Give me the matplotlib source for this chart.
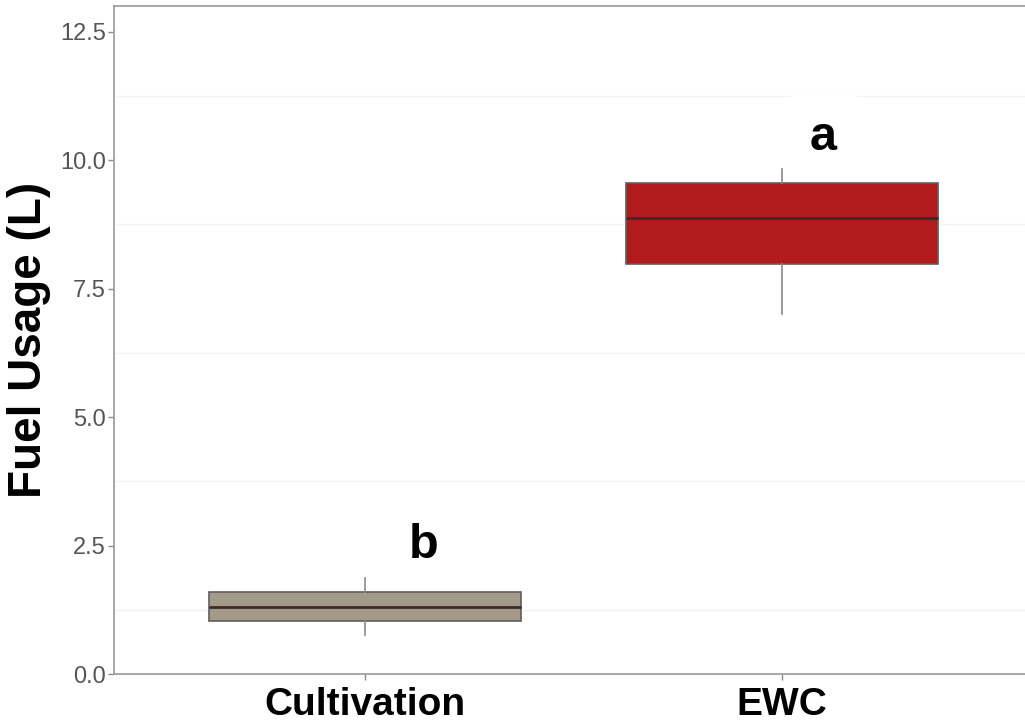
import matplotlib.pyplot as plt

plt.rcParams['font.family'] = ['Liberation Sans', 'DejaVu Sans']

# data
groups = ['Cultivation', 'EWC']
whisker_low = [0.76, 7.01]
q1 = [1.03, 7.98]
median = [1.31, 8.88]
q3 = [1.60, 9.55]
whisker_high = [1.87, 9.82]
letters = ['b', 'a']
letter_x_shift = [0.14, 0.10]
letter_y = [2.25, 10.19]
box_colors = ['#A39A8A', '#B21B1C']

fig = plt.figure(figsize=(10.25, 7.27), dpi=100, facecolor='white')
ax = fig.add_axes([0.1112, 0.0729, 0.95, 0.9188])

stats = []
for i, g in enumerate(groups):
    stats.append({'label': g, 'whislo': whisker_low[i], 'q1': q1[i], 'med': median[i],
                  'q3': q3[i], 'whishi': whisker_high[i], 'fliers': []})

positions = list(range(1, len(groups) + 1))
bp = ax.bxp(stats, positions=positions, widths=0.75, patch_artist=True, showcaps=False,
            boxprops=dict(edgecolor='#5e5e5e', linewidth=1.2),
            whiskerprops=dict(color='#8a8a8a', linewidth=1.2),
            medianprops=dict(color='#3d2a2a', linewidth=2.0), zorder=3)
for patch, c in zip(bp['boxes'], box_colors):
    patch.set_facecolor(c)

# significance letters (white label box like geom_label)
for p, dx, lt, ly in zip(positions, letter_x_shift, letters, letter_y):
    ax.text(p + dx, ly, lt, fontsize=35, fontweight='bold', ha='center', va='baseline',
            zorder=4, bbox=dict(facecolor='white', edgecolor='none', pad=14))

ax.set_xlim(0.398, 2.583 + (0.95 - 0.8888) * 1025 / 417)
ax.set_ylim(0, 13)
ax.set_xticks(positions)
ax.set_xticklabels(groups, fontsize=28, fontweight='bold', color='black')
ax.set_yticks([0, 2.5, 5, 7.5, 10, 12.5])
ax.set_yticklabels(['0.0', '2.5', '5.0', '7.5', '10.0', '12.5'], fontsize=17, color='#555555')
ax.set_yticks([1.25, 3.75, 6.25, 8.75, 11.25], minor=True)
ax.tick_params(axis='y', which='minor', length=0)
ax.tick_params(axis='both', which='major', length=4, width=1, color='#8a8a8a', pad=2)
ax.tick_params(axis='x', which='major', pad=5)
ax.grid(True, which='minor', axis='y', color='#f3f3f3', linewidth=1, zorder=0)
ax.set_axisbelow(True)
ax.set_ylabel('Fuel Usage (L)', fontsize=33, fontweight='bold', labelpad=6)

for s in ['left', 'bottom', 'top']:
    ax.spines[s].set_color('#9a9a9a')
    ax.spines[s].set_linewidth(1.2)
ax.spines['right'].set_visible(False)

fig.savefig('out.png', dpi=100, facecolor='white')
